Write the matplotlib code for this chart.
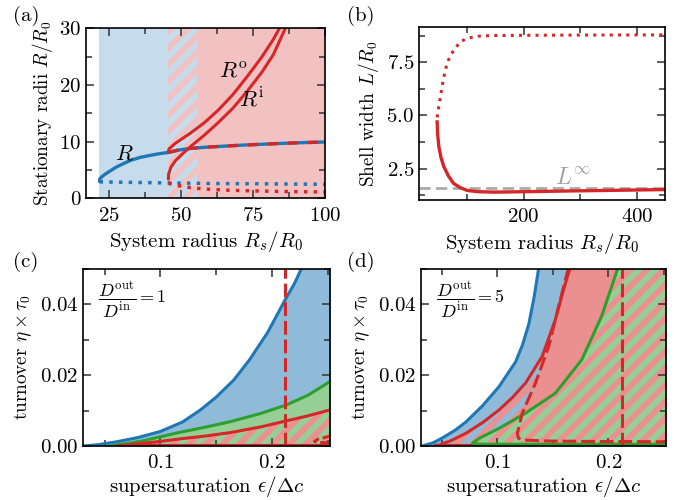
import matplotlib
matplotlib.use('Agg')
import matplotlib.pyplot as plt
from matplotlib.ticker import MultipleLocator, FixedLocator

plt.rcParams['font.family'] = 'serif'
plt.rcParams['font.serif'] = ['cmr10']
plt.rcParams['mathtext.fontset'] = 'cm'
plt.rcParams['axes.formatter.use_mathtext'] = True
plt.rcParams['font.size'] = 15
plt.rcParams['hatch.linewidth'] = 4.2

# colours
BLUE = '#1f77b4'
RED = '#d62728'
GREEN = '#2ca02c'
LBLUE = '#c6dcec'
LRED = '#f2c2c3'
MBLUE = '#8fbbd9'
MGREEN = '#96cf96'
MRED = '#eb9091'

# ---- panel (a): stationary radii vs system radius
a_R_x = [21.7, 21.8, 22.5, 23.5, 25.3, 27.5, 29.9, 32.5, 35.7, 38.5, 41.6, 45.6]
a_R_y = [3.0, 3.4, 3.8, 4.2, 4.8, 5.5, 6.1, 6.7, 7.2, 7.5, 7.8, 8.1]
a_Rdash_x = [45.6, 49, 53.2, 58, 64.9, 70, 76.5, 82, 88.2, 94, 100]
a_Rdash_y = [8.1, 8.5, 8.8, 9.0, 9.2, 9.35, 9.5, 9.63, 9.75, 9.85, 9.93]
a_blue_dot_x = [21.7, 40, 60, 80, 100]
a_blue_dot_y = [2.9, 2.75, 2.62, 2.55, 2.47]
a_red_dot_x = [45.6, 48, 50, 53.2, 58, 64.9, 70, 76.5, 88, 100]
a_red_dot_y = [2.65, 2.35, 2.15, 1.88, 1.65, 1.46, 1.37, 1.29, 1.18, 1.11]
a_Ro_x = [45.6, 45.8, 48, 53, 58, 63, 68, 73, 78, 82, 84.5]
a_Ro_y = [8.2, 8.7, 9.7, 11.4, 13.3, 15.6, 18.3, 21.5, 24.9, 28.0, 30.3]
a_Ri_x = [45.6, 45.7, 46.5, 48, 50, 53, 58, 63, 68, 73, 78, 82, 86.5]
a_Ri_y = [3.4, 4.3, 5.5, 6.6, 7.6, 9.0, 11.1, 13.4, 15.9, 18.9, 22.2, 25.3, 30.3]
a_regions = [21.6, 45.4, 55.5, 100]

# ---- panel (b): shell width
b_dot_x = [47, 49, 53, 58, 65, 76, 88, 100, 120, 147, 200, 300, 450]
b_dot_y = [4.9, 5.25, 5.9, 6.7, 7.5, 8.05, 8.45, 8.62, 8.72, 8.75, 8.76, 8.77, 8.78]
b_sol_x = [47, 48, 50, 54, 59, 67, 76, 88, 100, 120, 147, 200, 295, 450]
b_sol_y = [4.69, 4.1, 3.52, 3.0, 2.58, 2.15, 1.8, 1.6, 1.47, 1.41, 1.39, 1.41, 1.45, 1.51]
b_Linf = 1.59

# ---- panel (c): Dout/Din = 1
c_blue_x = [0.031, 0.045, 0.061, 0.08, 0.1, 0.12, 0.136, 0.15, 0.166, 0.18, 0.196, 0.212, 0.22, 0.227]
c_blue_y = [0, 0.0004, 0.0012, 0.0024, 0.0041, 0.0068, 0.0102, 0.0138, 0.0187, 0.0244, 0.032, 0.0414, 0.0458, 0.0505]
c_green_x = [0.055, 0.07, 0.085, 0.1, 0.118, 0.14, 0.163, 0.19, 0.213, 0.232, 0.252]
c_green_y = [0, 0.0007, 0.0015, 0.0026, 0.0039, 0.0053, 0.0069, 0.0092, 0.0116, 0.0143, 0.0182]
c_red_x = [0.063, 0.08, 0.1, 0.12, 0.14, 0.163, 0.19, 0.213, 0.232, 0.252]
c_red_y = [0, 0.0006, 0.0013, 0.0021, 0.0028, 0.0038, 0.0054, 0.0071, 0.0085, 0.0102]
c_dash_x = [0.252, 0.241, 0.238, 0.241, 0.252]
c_dash_y = [0.0028, 0.0019, 0.0013, 0.0010, 0.0009]

# ---- panel (d): Dout/Din = 5
d_blue_x = [0.032, 0.042, 0.051, 0.062, 0.0716, 0.0866, 0.1015, 0.1164, 0.1225, 0.1283, 0.133, 0.1373]
d_blue_y = [0, 0.0009, 0.0024, 0.0045, 0.0068, 0.0114, 0.0168, 0.0238, 0.0285, 0.0345, 0.042, 0.0505]
d_red_x = [0.0448, 0.058, 0.0716, 0.087, 0.1015, 0.1135, 0.1254, 0.1403, 0.1522, 0.1597, 0.1657]
d_red_y = [0, 0.0015, 0.0036, 0.0067, 0.0102, 0.0137, 0.0178, 0.0253, 0.0357, 0.0443, 0.0505]
d_dash_x = [0.1642, 0.1552, 0.1463, 0.1343, 0.1224, 0.1179, 0.119, 0.1224, 0.1463, 0.1761, 0.2507]
d_dash_y = [0.0505, 0.0395, 0.0282, 0.0178, 0.0093, 0.0035, 0.0022, 0.0017, 0.0014, 0.0013, 0.0012]
d_green_x = [0.2089, 0.194, 0.1761, 0.1522, 0.1254, 0.1015, 0.0836, 0.0791, 0.0775, 0.079, 0.09, 0.15, 0.252]
d_green_y = [0.0505, 0.0367, 0.0244, 0.0149, 0.0093, 0.005, 0.0022, 0.0012, 0.0008, 0.0006, 0.0005, 0.0005, 0.0005]

eps_crit = 0.212
YLABEL_SIZE = 13.8


def style(ax):
    ax.tick_params(which='both', direction='in', top=True, right=True,
                   width=1.1, color='#333333')
    ax.tick_params(axis='x', which='both', pad=6)
    ax.tick_params(axis='y', which='both', pad=3.5)
    ax.tick_params(which='major', length=6)
    ax.tick_params(which='minor', length=4.5)
    for s in ax.spines.values():
        s.set_linewidth(1.2)


fig = plt.figure(figsize=(6.74, 5.0), dpi=100)

# (a)
ax = fig.add_axes([0.1276, 0.6034, 0.3546, 0.34])
ax.axvspan(a_regions[0], a_regions[1], color=LBLUE, lw=0)
ax.axvspan(a_regions[1], a_regions[2], facecolor=LBLUE, edgecolor=LRED, hatch='//', lw=0)
ax.axvspan(a_regions[2], a_regions[3], color=LRED, lw=0)
ax.plot(a_blue_dot_x, a_blue_dot_y, color=BLUE, lw=2.5, ls=(0, (1, 1.8)))
ax.plot(a_red_dot_x, a_red_dot_y, color=RED, lw=2.5, ls=(0, (1, 1.8)))
ax.plot(a_R_x, a_R_y, color=BLUE, lw=2.4, solid_capstyle='round')
ax.plot(a_Rdash_x, a_Rdash_y, color=BLUE, lw=2.4)
ax.plot(a_Rdash_x, a_Rdash_y, color=RED, lw=2.4, dashes=(3, 3))
ax.plot(a_Ro_x, a_Ro_y, color=RED, lw=2.2, solid_capstyle='round')
ax.plot(a_Ri_x, a_Ri_y, color=RED, lw=2.2, solid_capstyle='round')
ax.text(30.5, 7.9, '$R$', fontsize=16, ha='center', va='center')
ax.text(68.2, 22.3, r'$R^{\rm o}$', fontsize=16, ha='center', va='center')
ax.text(74.5, 17.5, r'$R^{\rm i}$', fontsize=16, ha='center', va='center')
ax.set_xlim(17, 100)
ax.set_ylim(0, 30)
ax.xaxis.set_major_locator(FixedLocator([25, 50, 75, 100]))
ax.xaxis.set_minor_locator(MultipleLocator(12.5))
ax.yaxis.set_major_locator(FixedLocator([0, 10, 20, 30]))
ax.yaxis.set_minor_locator(MultipleLocator(5))
ax.set_xlabel('System radius $R_s/R_0$', labelpad=3)
ax.set_ylabel('Stationary radii $R/R_0$', labelpad=3, fontsize=YLABEL_SIZE)
style(ax)

# (b)
ax = fig.add_axes([0.6217, 0.6, 0.365, 0.346])
ax.axhline(b_Linf, color='#aaaaaa', lw=2, dashes=(4, 2))
ax.plot(b_dot_x, b_dot_y, color=RED, lw=2.2, ls=(0, (1, 1.7)))
ax.plot(b_sol_x, b_sol_y, color=RED, lw=2.4)
ax.text(288, 1.75, r'$L^{\infty}$', color='#a0a0a0', fontsize=17, ha='center', va='baseline')
ax.set_xlim(15, 450)
ax.set_ylim(1.02, 9.15)
ax.xaxis.set_major_locator(FixedLocator([200, 400]))
ax.xaxis.set_minor_locator(FixedLocator([100, 300]))
ax.yaxis.set_major_locator(FixedLocator([2.5, 5.0, 7.5]))
ax.yaxis.set_minor_locator(MultipleLocator(1.25))
ax.set_xlabel('System radius $R_s/R_0$', labelpad=3)
ax.set_ylabel('Shell width $L/R_0$', fontsize=YLABEL_SIZE)
style(ax)

# (c)
ax = fig.add_axes([0.1236, 0.108, 0.366, 0.354])
ax.fill_betweenx(c_blue_y, c_blue_x, 0.26, color=MBLUE, lw=0)
ax.fill_between(c_green_x, 0, c_green_y, color=MGREEN, lw=0)
ax.fill_between(c_red_x, 0, c_red_y, facecolor=MGREEN, edgecolor=MRED, hatch='//', lw=0)
ax.plot(c_blue_x, c_blue_y, color=BLUE, lw=2.2)
ax.plot(c_green_x, c_green_y, color=GREEN, lw=2.2)
ax.plot(c_red_x, c_red_y, color=RED, lw=2.2)
ax.plot([c_red_x[0], 0.26], [0, 0], color=RED, lw=3)
ax.plot(c_dash_x, c_dash_y, color=RED, lw=2.2, dashes=(2.5, 1.2))
ax.axvline(eps_crit, color=RED, lw=2.2, dashes=(4.5, 1.6))
ax.text(0.06, 0.82, r'$\dfrac{D^{\rm out}}{D^{\rm in}}=1$', transform=ax.transAxes,
        fontsize=13, ha='left', va='center')
style(ax)

# (d)
ax2 = fig.add_axes([0.6246, 0.108, 0.3635, 0.354])
ax2.fill_betweenx(d_blue_y, d_blue_x, 0.26, color=MBLUE, lw=0)
ax2.fill_betweenx(d_red_y, d_red_x, 0.26, facecolor=MBLUE, edgecolor=MRED, hatch='//', lw=0)
ax2.fill_betweenx(d_dash_y, d_dash_x, 0.26, color=MRED, lw=0)
ax2.fill_betweenx(d_green_y, d_green_x, 0.26, facecolor=MGREEN, edgecolor=MRED, hatch='//', lw=0)
ax2.plot(d_blue_x, d_blue_y, color=BLUE, lw=2.2)
ax2.plot([d_red_x[0], 0.26], [0, 0], color=RED, lw=3)
ax2.plot(d_red_x, d_red_y, color=RED, lw=2.2)
ax2.plot(d_green_x, d_green_y, color=GREEN, lw=2.2)
ax2.plot(d_dash_x, d_dash_y, color=RED, lw=2.2, dashes=(4.5, 1.6))
ax2.axvline(eps_crit, color=RED, lw=2.2, dashes=(4.5, 1.6))
ax2.text(0.06, 0.82, r'$\dfrac{D^{\rm out}}{D^{\rm in}}=5$', transform=ax2.transAxes,
         fontsize=13, ha='left', va='center')
style(ax2)

for a in (ax, ax2):
    a.set_xlim(0.031, 0.252)
    a.set_ylim(0, 0.05)
    a.xaxis.set_major_locator(FixedLocator([0.1, 0.2]))
    a.xaxis.set_minor_locator(MultipleLocator(0.05))
    a.yaxis.set_major_locator(FixedLocator([0.0, 0.02, 0.04]))
    a.yaxis.set_minor_locator(MultipleLocator(0.01))
    a.set_xlabel(r'supersaturation $\epsilon/\Delta c$', labelpad=1)
    a.set_ylabel(r'turnover $\eta\times\tau_0$', fontsize=YLABEL_SIZE)

fig.text(0.019, 0.968, '(a)', va='center', ha='left')
fig.text(0.515, 0.968, '(b)', va='center', ha='left')
fig.text(0.019, 0.476, '(c)', va='center', ha='left')
fig.text(0.515, 0.476, '(d)', va='center', ha='left')

fig.savefig('out.png', dpi=100)
